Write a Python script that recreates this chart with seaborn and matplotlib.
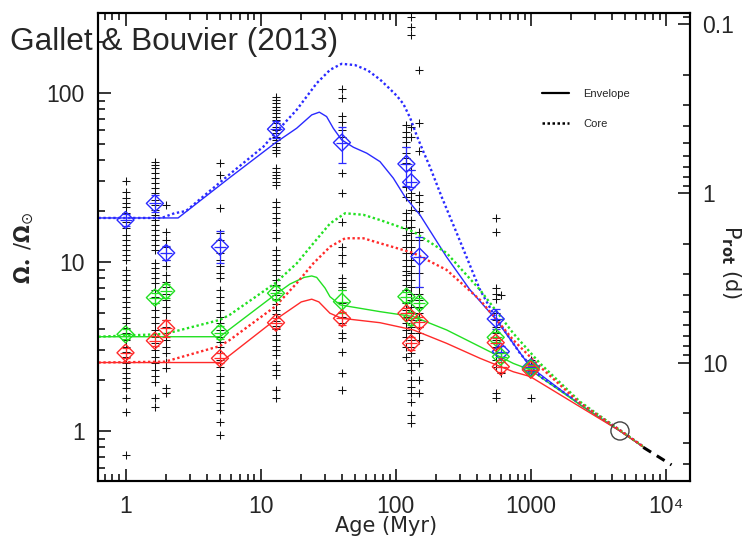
import numpy as np
import pandas as pd
import matplotlib
matplotlib.use("Agg")
import matplotlib.pyplot as plt
from matplotlib.lines import Line2D
from matplotlib.ticker import FixedLocator, FixedFormatter, LogLocator, NullFormatter
import seaborn as sns

# ---------------- data ----------------
P_SUN = 25.4  # d, conversion Omega/Omega_sun -> P_rot

# model curves: envelope (solid) and core (dotted)
blue_env_age = [0.63, 2.45, 5.9, 12.8, 18.5, 23.9, 27.2, 30.8, 34.5, 39.8, 48.6, 61, 76.5, 96, 117, 151, 238, 355, 543, 988, 2313, 4570, 6770]
blue_env_om = [18.2, 18.2, 31.5, 50.5, 61.8, 74.1, 76.9, 72.4, 61.8, 52.7, 47.7, 44.0, 39.2, 31.3, 24.3, 19.0, 10.7, 6.83, 4.64, 2.4, 1.43, 1.0, 0.807]
blue_core_age = [0.63, 1.85, 2.3, 2.8, 5.9, 10.5, 12.8, 18.5, 26, 32.7, 39.8, 50, 62, 76.5, 90, 102, 114, 128, 143, 160, 179, 220, 283, 421, 543, 832, 1170, 2313, 4570, 6770]
blue_core_om = [18.2, 18.2, 19.4, 20.0, 33.0, 48.1, 57.7, 79.4, 114, 137, 148.6, 146, 136, 120, 106, 96, 86, 71, 56, 45, 36.6, 24, 14.8, 6.83, 4.75, 2.88, 2.1, 1.46, 1.01, 0.81]

green_env_age = [0.63, 5.0, 5.9, 12.8, 16.5, 21, 23.9, 26, 30, 32.6, 38.7, 45.9, 76.5, 135, 238, 421, 742, 988, 2313, 4570, 6770]
green_env_om = [3.61, 3.61, 4.0, 6.4, 7.4, 8.1, 8.26, 8.1, 7.0, 6.23, 5.57, 5.44, 5.08, 4.75, 3.96, 3.15, 2.51, 2.3, 1.43, 1.0, 0.807]
green_core_age = [0.63, 1.96, 5.0, 5.9, 12.8, 18.5, 24.6, 32.7, 42.2, 57.6, 76.5, 135, 238, 421, 742, 1170, 2313, 4570, 6770]
green_core_om = [3.61, 3.75, 4.54, 4.86, 7.48, 9.8, 12.9, 16.9, 19.4, 19.0, 17.7, 15.1, 11.3, 6.83, 3.78, 2.51, 1.49, 1.01, 0.81]

red_env_age = [0.63, 5.0, 5.9, 12.8, 20, 23.9, 27, 32.6, 39.8, 76.5, 135, 238, 421, 742, 988, 2313, 4570, 6770]
red_env_om = [2.54, 2.54, 2.8, 4.54, 5.8, 6.02, 5.8, 4.97, 4.64, 4.37, 3.96, 3.3, 2.69, 2.24, 2.1, 1.39, 1.0, 0.807]
red_core_age = [0.63, 1.96, 5.0, 5.9, 12.8, 18.5, 24.6, 32.7, 42.2, 57.6, 76.5, 135, 238, 421, 742, 1170, 2313, 4570, 6770]
red_core_om = [2.54, 2.57, 3.18, 3.45, 5.44, 7.48, 9.82, 12.3, 13.8, 13.8, 12.9, 11.3, 8.97, 5.96, 3.45, 2.4, 1.46, 1.01, 0.81]

ext_age = [6800, 11000]
ext_om = [0.80, 0.63]

sun_age = [4570]
sun_om = [1.0]

# observed percentiles (diamonds)
obs_age = [1, 1.65, 2, 5, 13, 40, 120, 130, 150, 550, 600, 1000]
blue_obs = [17.7, 22.2, 11.3, 12.3, 61, 50.8, 38, 29.6, 10.75, 4.6, 2.95, 2.38]
blue_err_lo = [0.037, 0.05, 0.04, 0.094, 0.05, 0.12, 0.13, 0.03, 0.178, 0.06, 0.03, 0.02]
blue_err_hi = [0.037, 0.05, 0.04, 0.094, 0.05, 0.095, 0.10, 0.073, 0.118, 0.06, 0.03, 0.02]
green_obs = [3.73, 6.15, 6.73, 3.82, 6.53, 5.82, 6.23, 4.64, 5.7, 3.58, 2.75, 2.35]
green_err = [0.03, 0.03, 0.04, 0.04, 0.04, 0.07, 0.03, 0.04, 0.03, 0.03, 0.02, 0.02]
red_obs = [2.9, 3.42, 4.05, 2.69, 4.37, 4.64, 4.97, 3.3, 4.43, 3.33, 2.4, 2.3]
red_err = [0.03, 0.03, 0.05, 0.03, 0.03, 0.04, 0.03, 0.04, 0.03, 0.03, 0.03, 0.02]

# individual stars (+) per cluster
stars_1 = [30, 26, 24, 22.4, 21, 19.5, 17.3, 15.9, 14.4, 13.5, 12.6, 11.8, 11, 10.3, 9, 8.4, 7.8, 7.3, 6.8,
           6.2, 5.8, 5.4, 4.97, 4.64, 4.34, 4.05, 3.78, 3.45, 3.15, 2.95, 2.75, 2.51, 2.35, 2.2, 2.05,
           1.92, 1.79, 1.56, 1.3, 0.72]
stars_1p65 = [39.2, 37.5, 35.8, 33.5, 31.3, 29.2, 27.3, 25.5, 23.3, 21.7, 20.3, 19, 17.7, 16.6, 15.5, 14.4,
              13.5, 12.6, 11.8, 9.8, 9.2, 8.6, 8.0, 7.5, 6.83, 6.23, 5.7, 5.2, 4.75, 4.34, 3.96, 3.61, 3.3,
              3.01, 2.75, 2.51, 2.3, 2.1, 1.96, 1.56, 1.39]
stars_2 = [21.7, 15.1, 13.5, 12.3, 11.3, 10.3, 9.4, 8.4, 7.6, 7.1, 6.5, 5.96, 5.4, 4.97, 4.54, 4.14, 3.78,
           3.45, 3.15, 2.88, 2.57, 2.35, 1.79, 1.67]
stars_5 = [38.4, 32.7, 20.8, 14.8, 13.5, 12.3, 11.3, 10.3, 9.4, 8.6, 8.0, 6.83, 6.23, 5.7, 5.2, 4.75, 4.34,
           3.96, 3.61, 3.38, 3.15, 2.88, 2.63, 2.4, 2.1, 1.92, 1.75, 1.6, 1.46, 1.33, 1.13, 0.95]
stars_13 = [95, 91, 86.9, 83, 79.3, 75.8, 72.4, 69.2, 66.2, 63.2, 60.4, 57.8, 55.1, 52.7, 50.4, 48.1, 46, 44,
            35.8, 34.2, 32.7, 31.3, 29.9, 28.5, 22.7, 21.2, 19.4, 18.1, 16.9, 15.1, 13.8, 11.8, 11, 10.3,
            9.6, 9, 8.4, 7.8, 7.3, 6.8, 6.4, 6.0, 5.6, 5.2, 4.9, 4.5, 4.2, 4.0, 3.7, 3.45, 3.2, 3.0, 2.8,
            2.46, 2.3, 2.15, 1.75, 1.56]
stars_40 = [105, 93, 73, 67.6, 60.4, 54.7, 33.8, 25.5, 17.3, 12.3, 11, 9.8, 8.0, 7.5, 7.1, 6.83, 5.7, 4.75,
            4.34, 3.78, 3.54, 2.95, 2.2, 1.75]
stars_120 = [64.7, 59, 55.1, 51.5, 48.1, 44, 41.1, 38.4, 27.9, 24.3, 19.4, 17.7, 15.8, 14.4, 13.5, 12.3,
             11.3, 10.3, 9.4, 8.8, 8.4, 7.8, 7.3, 6.8, 6.2, 5.7, 5.2, 4.75, 4.34, 3.96, 3.61, 3.15, 2.75]
stars_130 = [282, 246, 220, 63.2, 55.1, 35, 25.5, 23.3, 20.3, 17.7, 16.2, 14.8, 13.5, 12.3, 11.3, 10.3, 9.4,
             8.6, 7.8, 7.1, 6.5, 5.96, 5.4, 4.97, 4.54, 4.14, 3.78, 3.45, 3.15, 2.88, 2.51, 2.3, 2.0, 1.83,
             1.67, 1.49, 1.24, 1.11]
stars_150 = [137, 66.2, 45, 24.9, 22.7, 19.9, 15.1, 13.5, 10.75, 8.6, 7.1, 6.5, 5.96, 5.4, 4.97, 4.54,
             4.14, 3.78, 3.45, 2.51, 2.0, 1.67]
stars_550 = [18.1, 15.1, 7.0, 6.5, 6.0, 4.97, 4.54, 4.14, 3.78, 3.45, 3.15, 2.88, 2.63, 2.4, 1.67, 1.56]
stars_600 = [6.4, 2.75, 2.4, 2.2]
stars_1000 = [2.63, 2.4, 2.2, 1.56]

star_groups = {1: stars_1, 1.65: stars_1p65, 2: stars_2, 5: stars_5, 13: stars_13, 40: stars_40,
               120: stars_120, 130: stars_130, 150: stars_150, 550: stars_550, 600: stars_600,
               1000: stars_1000}

x_ticks = [1, 10, 100, 1000, 10000]
x_ticklabels = ["1", "10", "100", "1000", "10\u2074"]
y_ticks = [1, 10, 100]
y_ticklabels = ["1", "10", "100"]
p_ticks = [0.1, 1, 10]
p_ticklabels = ["0.1", "1", "10"]

# ---------------- style ----------------
sns.set_theme(style="ticks")
plt.rcParams["font.family"] = ["Liberation Sans", "DejaVu Sans"]
plt.rcParams["mathtext.fontset"] = "dejavusans"

BLUE = "#2a2aff"
GREEN = "#22e022"
RED = "#ff2a2a"

fig = plt.figure(figsize=(7.53, 5.40), dpi=100)
ax = fig.add_axes([0.1308, 0.1093, 0.7855, 0.8667])

# stars
star_df = pd.DataFrame([(a, v) for a, vals in star_groups.items() for v in vals], columns=["age", "omega"])
sns.scatterplot(data=star_df, x="age", y="omega", ax=ax, marker="+", s=30, color="#111111",
                linewidth=0.75, zorder=2, legend=False)

dot = (0, (1, 1.1))
for a, o, c, ls, lw in [
    (blue_env_age, blue_env_om, BLUE, "-", 1.0),
    (green_env_age, green_env_om, GREEN, "-", 1.0),
    (red_env_age, red_env_om, RED, "-", 1.0),
    (blue_core_age, blue_core_om, BLUE, dot, 1.7),
    (green_core_age, green_core_om, GREEN, dot, 1.7),
    (red_core_age, red_core_om, RED, dot, 1.7),
]:
    sns.lineplot(x=a, y=o, ax=ax, color=c, linestyle=ls, linewidth=lw, estimator=None,
                 sort=False, zorder=3, legend=False)

sns.lineplot(x=ext_age, y=ext_om, ax=ax, color="black", linestyle=(0, (3, 2.2)), linewidth=2.2,
             estimator=None, sort=False, zorder=3, legend=False)

# observed percentiles
obs = np.array(obs_age, dtype=float)
for vals, lo, hi, c in [
    (blue_obs, blue_err_lo, blue_err_hi, BLUE),
    (green_obs, green_err, green_err, GREEN),
    (red_obs, red_err, red_err, RED),
]:
    v = np.array(vals)
    yerr = [v - v * 10 ** (-np.array(lo)), v * 10 ** np.array(hi) - v]
    ax.errorbar(obs, v, yerr=yerr, fmt="none", ecolor=c, elinewidth=0.9, capsize=3.2,
                capthick=0.9, zorder=4)
    sns.scatterplot(x=obs, y=v, ax=ax, marker="D", s=75, facecolor="none", edgecolor=c,
                    linewidth=1.0, zorder=5, legend=False)
    sns.scatterplot(x=obs, y=v, ax=ax, marker="_", s=80, color=c, linewidth=0.9, zorder=5,
                    legend=False)

# Sun
sns.scatterplot(x=sun_age, y=sun_om, ax=ax, marker="o", s=170, facecolor="none",
                edgecolor="#444444", linewidth=1.0, zorder=6, legend=False)

# axes
ax.set_xscale("log")
ax.set_yscale("log")
ax.set_xlim(0.631, 15070)
ax.set_ylim(0.506, 297)
ax.set_xlabel("")
ax.set_ylabel("")
ax.xaxis.set_major_locator(FixedLocator(x_ticks))
ax.xaxis.set_major_formatter(FixedFormatter(x_ticklabels))
ax.xaxis.set_minor_locator(LogLocator(base=10, subs=np.arange(2, 10)))
ax.xaxis.set_minor_formatter(NullFormatter())
ax.yaxis.set_major_locator(FixedLocator(y_ticks))
ax.yaxis.set_major_formatter(FixedFormatter(y_ticklabels))
ax.yaxis.set_minor_locator(LogLocator(base=10, subs=np.arange(2, 10)))
ax.yaxis.set_minor_formatter(NullFormatter())
ax.tick_params(which="both", direction="in", top=True, right=False, color="black", width=1.1)
ax.tick_params(which="major", length=9, labelsize=16.5, pad=10)
ax.tick_params(which="minor", length=5)
for s in ax.spines.values():
    s.set_linewidth(1.5)
    s.set_color("black")

ax2 = ax.twinx()
ax2.set_yscale("log")
ax2.set_ylim(P_SUN / 0.506, P_SUN / 297)
ax2.yaxis.set_major_locator(FixedLocator(p_ticks))
ax2.yaxis.set_major_formatter(FixedFormatter(p_ticklabels))
ax2.yaxis.set_minor_locator(LogLocator(base=10, subs=np.arange(2, 10)))
ax2.yaxis.set_minor_formatter(NullFormatter())
ax2.tick_params(which="both", direction="in", left=False, right=True, color="black", width=1.1)
ax2.tick_params(which="major", length=9, labelsize=16.5, pad=9)
ax2.tick_params(which="minor", length=5)
for s in ax2.spines.values():
    s.set_linewidth(1.5)
    s.set_color("black")

# legend
handles = [Line2D([], [], color="black", lw=1.6, linestyle="-"),
           Line2D([], [], color="black", lw=1.8, linestyle=(0, (1, 1)))]
fig.legend(handles, ["Envelope", "Core"], loc="upper left", bbox_to_anchor=(542 / 753, 1 - 89 / 540),
           frameon=False, fontsize=8, handlelength=2.4, handletextpad=1.3, labelspacing=1.8,
           borderpad=0, borderaxespad=0)

# texts
fig.text(10 / 753, 1 - 42 / 540, "Gallet & Bouvier (2013)", fontsize=22.7, ha="left", va="center")
fig.text(24 / 753, 1 - 248 / 540, r"$\mathbf{\Omega}_{\bullet}\ /\mathbf{\Omega}_{\odot}$", fontsize=15,
         rotation=90, ha="center", va="center", family=["DejaVu Sans"])
fig.text(386 / 753, 1 - 526 / 540, "Age (Myr)", fontsize=15, ha="center", va="center",
         family=["DejaVu Sans"])
fig.text(731 / 753, 1 - 262 / 540, r"P$_{\mathbf{rot}}$ (d)", fontsize=15, rotation=270,
         ha="center", va="center", family=["DejaVu Sans"])

fig.savefig("out.png", dpi=100)
